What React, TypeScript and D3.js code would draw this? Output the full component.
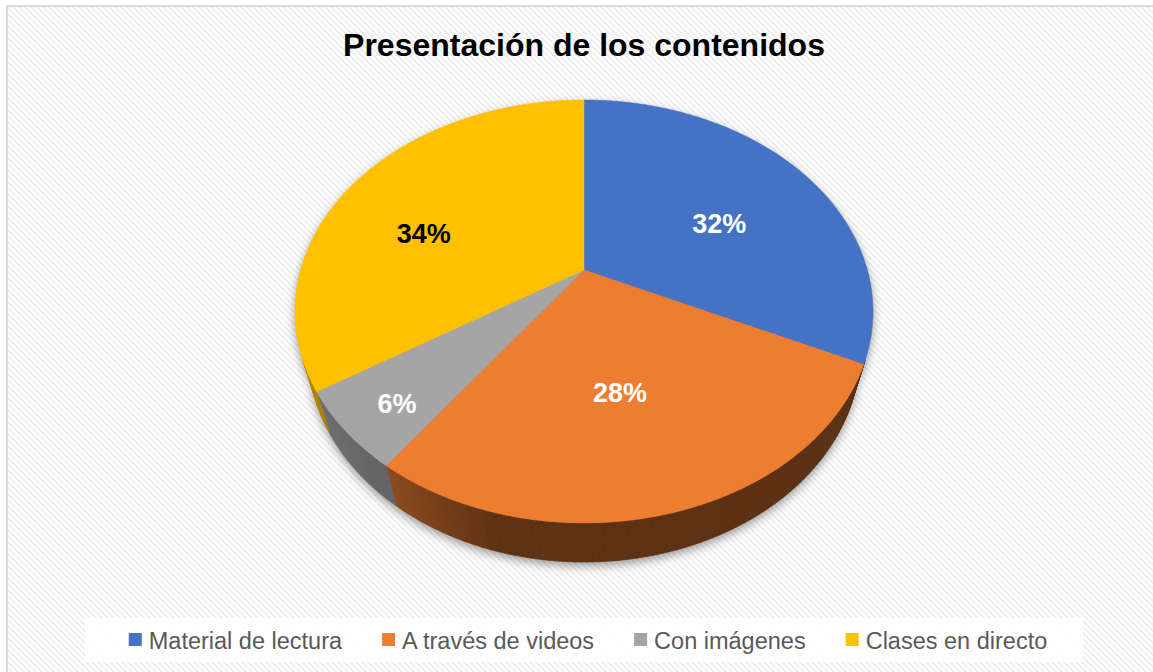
import React, { useEffect, useRef } from "react";
import * as d3 from "d3";

// ---- Data ----
const CATEGORIES = ["Material de lectura", "A través de videos", "Con imágenes", "Clases en directo"];
const VALUES = [32, 28, 6, 34];
const LABELS = ["32%", "28%", "6%", "34%"];
const COLORS = ["#4472C4", "#ED7D31", "#A5A5A5", "#FFC000"];
const LABEL_COLORS = ["#FFFFFF", "#FFFFFF", "#FFFFFF", "#000000"];
const TITLE = "Presentación de los contenidos";

// ---- Layout ----
const W = 1153;
const H = 672;
const CX = 584;
const CY = 270;
const FOCAL = 1006.7;
const RAD = 0.2815;
const THICK = 0.0639;
const SIN_P = 0.7177;
const COS_P = 0.6963;
// label placement inside each slice: t = fraction through the slice, r = radius fraction
const LABEL_LAYOUT = [
  { t: 0.56, r: 0.553 },
  { t: 0.524, r: 0.549 },
  { t: 0.43, r: 0.823 },
  { t: 0.41, r: 0.616 },
];

function proj(theta: number, r: number, d: number): [number, number] {
  const u = r * Math.sin(theta);
  const v = -r * Math.cos(theta);
  const X = RAD * u;
  const yc = RAD * v * SIN_P + d * THICK * COS_P;
  const zc = 1 - RAD * v * COS_P + d * THICK * SIN_P;
  return [CX + (FOCAL * X) / zc, CY + (FOCAL * yc) / zc];
}

export default function App() {
  const ref = useRef<SVGSVGElement | null>(null);

  useEffect(() => {
    const svg = d3.select(ref.current);
    svg.selectAll("*").remove();

    const defs = svg.append("defs");
    const pat = defs
      .append("pattern")
      .attr("id", "hatch")
      .attr("patternUnits", "userSpaceOnUse")
      .attr("width", 6)
      .attr("height", 6);
    pat.append("rect").attr("width", 6).attr("height", 6).attr("fill", "#ffffff");
    pat
      .append("path")
      .attr("d", "M-1,-1 L7,7 M-1,5 L1,7 M5,-1 L7,1")
      .attr("stroke", "#efefef")
      .attr("stroke-width", 2.2);

    const filt = defs
      .append("filter")
      .attr("id", "shadow")
      .attr("x", "-20%")
      .attr("y", "-20%")
      .attr("width", "140%")
      .attr("height", "140%");
    filt.append("feGaussianBlur").attr("stdDeviation", 5);

    // background
    svg.append("rect").attr("width", W).attr("height", H).attr("fill", "#ffffff");
    svg
      .append("rect")
      .attr("x", 7)
      .attr("y", 6)
      .attr("width", W + 20)
      .attr("height", H + 20)
      .attr("fill", "url(#hatch)")
      .attr("stroke", "#d9d9d9")
      .attr("stroke-width", 2);

    // title
    svg
      .append("text")
      .attr("x", CX)
      .attr("y", 56)
      .attr("text-anchor", "middle")
      .attr("font-family", "'Liberation Sans', Arial, sans-serif")
      .attr("font-weight", "bold")
      .attr("font-size", 32)
      .attr("fill", "#000000")
      .text(TITLE);

    const pie = d3
      .pie<number>()
      .sort(null)
      .value((d) => d)
      .startAngle(0)
      .endAngle(2 * Math.PI);
    const arcs = pie(VALUES);

    const line = d3.line<[number, number]>();
    const arcPts = (a0: number, a1: number, d: number) => {
      const n = Math.max(2, Math.ceil(((a1 - a0) * 180) / Math.PI / 0.5));
      return d3.range(n + 1).map((i) => proj(a0 + ((a1 - a0) * i) / n, 1, d));
    };

    // silhouette angles of the cylinder
    const vs = RAD / COS_P;
    const sA = Math.acos(-vs); // ~113.8deg
    const sB = 2 * Math.PI - sA;

    // shadow
    const sh = svg.append("g").attr("filter", "url(#shadow)").attr("opacity", 0.38).attr("transform", "translate(0,4)");
    sh.append("path").attr("d", line(arcPts(0, 2 * Math.PI, 1)) + "Z").attr("fill", "#000");
    sh.append("path").attr("d", line(arcPts(0, 2 * Math.PI, 0)) + "Z").attr("fill", "#000");

    // side shading by angle
    const deg = Math.PI / 180;
    const shade = d3
      .scaleLinear<number>()
      .domain([sA, 195 * deg, 216 * deg, sB])
      .range([0.38, 0.4, 0.6, 0.7])
      .clamp(true);

    const sides = svg.append("g");
    arcs.forEach((a, i) => {
      const lo = Math.max(a.startAngle, sA);
      const hi = Math.min(a.endAngle, sB);
      if (hi <= lo) return;
      const n = Math.max(1, Math.ceil((hi - lo) / deg));
      const base = d3.rgb(COLORS[i]);
      for (let k = 0; k < n; k++) {
        const t0 = lo + ((hi - lo) * k) / n;
        const t1 = lo + ((hi - lo) * (k + 1)) / n;
        const f = shade((t0 + t1) / 2);
        const c = d3.rgb(base.r * f, base.g * f, base.b * f).formatHex();
        const pts: [number, number][] = [
          ...arcPts(t0, t1, 0),
          ...arcPts(t0, t1, 1).reverse(),
        ];
        sides
          .append("path")
          .attr("d", line(pts) + "Z")
          .attr("fill", c)
          .attr("stroke", c)
          .attr("stroke-width", 0.7);
      }
    });

    // top faces
    const tops = svg.append("g");
    arcs.forEach((a, i) => {
      const pts: [number, number][] = [proj(0, 0, 0), ...arcPts(a.startAngle, a.endAngle, 0)];
      tops
        .append("path")
        .attr("d", line(pts) + "Z")
        .attr("fill", COLORS[i])
        .attr("stroke", COLORS[i])
        .attr("stroke-width", 0.5);
    });

    // data labels
    const fs = 27;
    arcs.forEach((a, i) => {
      const L = LABEL_LAYOUT[i];
      const th = a.startAngle + (a.endAngle - a.startAngle) * L.t;
      const [x, y] = proj(th, L.r, 0);
      svg
        .append("text")
        .attr("x", x)
        .attr("y", y + fs * 0.358)
        .attr("text-anchor", "middle")
        .attr("font-family", "'Liberation Sans', Arial, sans-serif")
        .attr("font-weight", "bold")
        .attr("font-size", fs)
        .attr("fill", LABEL_COLORS[i])
        .text(LABELS[i]);
    });

    // legend
    const box = { x: 85, y: 618, w: 998, h: 44 };
    svg
      .append("rect")
      .attr("x", box.x)
      .attr("y", box.y)
      .attr("width", box.w)
      .attr("height", box.h)
      .attr("fill", "#ffffff")
      .attr("opacity", 0.85);
    const lg = svg.append("g");
    const lfs = 23.5;
    const sq = 13;
    const gapSq = 7;
    const gapItem = 40;
    const items = CATEGORIES.map((c, i) => {
      const g = lg.append("g");
      g.append("rect").attr("width", sq).attr("height", sq).attr("y", 633).attr("fill", COLORS[i]);
      const t = g
        .append("text")
        .attr("x", sq + gapSq)
        .attr("y", 649)
        .attr("font-family", "'Liberation Sans', Arial, sans-serif")
        .attr("font-size", lfs)
        .attr("fill", "#595959")
        .text(c);
      const w = (t.node() as SVGTextElement).getComputedTextLength();
      return { g, w: sq + gapSq + w };
    });
    const total = d3.sum(items, (d) => d.w) + gapItem * (items.length - 1);
    let x0 = 588 - total / 2;
    items.forEach((it) => {
      it.g.attr("transform", `translate(${x0},0)`);
      x0 += it.w + gapItem;
    });
  }, []);

  return (
    <svg
      ref={ref}
      width={W}
      height={H}
      style={{ position: "fixed", left: 0, top: 0, display: "block" }}
    />
  );
}
